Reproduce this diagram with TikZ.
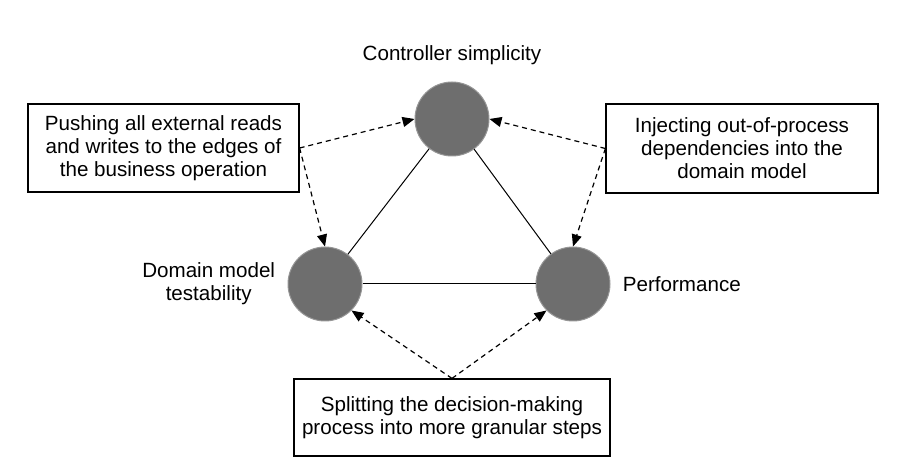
\documentclass[tikz,border=0pt]{standalone}
\usepackage{fontspec}
\setmainfont{Liberation Sans}
\usetikzlibrary{arrows.meta, positioning}
\definecolor{circle_fill}{RGB}{110,110,110}
\definecolor{circle_edge}{RGB}{150,150,150}
\tikzstyle{goal_circle}=[circle, draw=circle_edge, fill=circle_fill, line width=0.5pt, minimum size=37pt, inner sep=0]
\tikzstyle{goal_label}=[inner sep=0, align=center]
\tikzstyle{approach_box}=[rectangle, draw=black, line width=0.6pt, align=center, inner sep=0]
\tikzstyle{tradeoff_line}=[line width=0.5pt]
\tikzstyle{tradeoff_arrow}=[line width=0.6pt, dash pattern=on 2.5pt off 2pt,
   -{Triangle[length=6pt,width=5pt]}]

\begin{document}
\begin{tikzpicture}[x=0.5pt, y=-0.5pt, font=\fontsize{10.3}{11.5}\selectfont]
\useasboundingbox (0,0) rectangle (918,476);

% trade-off triangle
\node [goal_circle] (simplicity)  at (452,119) {};
\node [goal_circle] (testability) at (325,284) {};
\node [goal_circle] (performance) at (573,284) {};

\node [goal_label] (simplicity_label)  [above=8pt of simplicity]  {Controller simplicity};
\node [goal_label] (testability_label) [left=6pt of testability]  {Domain model\\testability};
\node [goal_label] (performance_label) [right=6pt of performance] {Performance};

\draw [tradeoff_line] (simplicity) -- (testability);
\draw [tradeoff_line] (simplicity) -- (performance);
\draw [tradeoff_line] (testability) -- (performance);

% approaches
\node [approach_box, minimum width=135.5pt, minimum height=44pt] (push_box) at (163.5,148)
    {Pushing all external reads\\and writes to the edges of\\the business operation};
\node [approach_box, minimum width=136pt, minimum height=44.5pt] (inject_box) at (742,148.5)
    {Injecting out-of-process\\dependencies into the\\domain model};
\node [approach_box, minimum width=158pt, minimum height=38.5pt] (split_box) at (452,417.5)
    {Splitting the decision-making\\process into more granular steps};

% which goals each approach keeps
\draw [tradeoff_arrow] (push_box.east) -- (simplicity.west);
\draw [tradeoff_arrow] (push_box.east) -- (testability.north);
\draw [tradeoff_arrow] (inject_box.west) -- (simplicity.east);
\draw [tradeoff_arrow] (inject_box.west) -- (performance.north);
\draw [tradeoff_arrow] (split_box.north) -- (testability.south east);
\draw [tradeoff_arrow] (split_box.north) -- (performance.south west);

\end{tikzpicture}
\end{document}
